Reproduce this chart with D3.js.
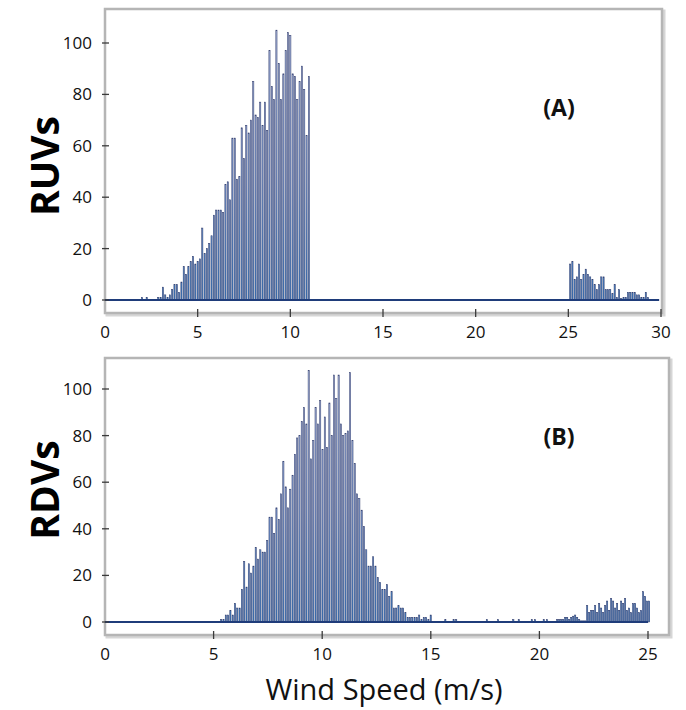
<!DOCTYPE html>
<html><head><meta charset="utf-8">
<script src="https://cdn.jsdelivr.net/npm/d3@7"></script>
<style>body{margin:0;background:#fff}svg{display:block}</style>
</head><body>
<svg id="c" width="686" height="710"></svg>
<script>
// ---------- DATA ----------
// Panel A (RUVs): counts per wind-speed bin
const ruvMainStart = 2.0, ruvMainStep = 0.125;
const ruvMainValues = [1,0,1,0,0,0,0,1,1,5,2,1,2,4,6,6,3,7,13,10,13,15,17,14,15,16,28,18,20,22,25,33,35,35,35,34,45,46,39,63,63,47,48,67,55,68,65,70,85,72,71,77,68,77,66,97,83,78,105,92,78,88,97,104,103,88,87,78,85,91,82,64,87];
const ruvTailStart = 25.1, ruvTailStep = 0.12;
const ruvTailValues = [14,15,8,9,14,8,10,12,10,9,8,6,4,6,9,9,4,4,4,2.5,6,1,4,0.5,1,1,3,3,3,3,2,2,1,1,3,1];

// Panel B (RDVs)
const rdvMainStart = 5.35, rdvMainStep = 0.106;
const rdvMainValues = [1,1,3,3,5,3,8,6,6,14,26,15,25,21,24,32,27,31,30,30,35,45,45,38,49,44,55,69,58,49,57,63,72,79,80,86,92,85,108,70,78,92,85,95,74,88,75,94,80,106,96,106,85,80,81,82,107,78,68,55,53,48,41,31,24,24,28,24,19,17,14,14,16,11,13,6,6,7,6,6,4,2,2,2,2,2,3,1,2,2,1,3];
const rdvSparseSpeeds = [15.67,16.05,16.17,17.58,18.1,18.8,19.05,19.65,19.8,20.2,20.35];
const rdvSparseValues = [1,1,1,1,1,1,1,1,1,1,1];
const rdvTailStart = 20.82, rdvTailStep = 0.092;
const rdvTailValues = [1,1,1,1,2,2,1,2,2.5,3,2,1,0.5,0.5,0.5,7,4,5,5,7,4,8,6,4,7,9,5,10,9,6,8,5,9,8,10,5,6,4,8,8,6,4,5,13,11,9,9];

const ruvXTicks = [0,5,10,15,20,25,30];
const rdvXTicks = [0,5,10,15,20,25];
const yTicks = [0,20,40,60,80,100];

// ---------- BUILD ----------
function seg(start, step, values){ return values.map((v,i)=>({s:start+i*step, v})); }
const ruvData = seg(ruvMainStart, ruvMainStep, ruvMainValues).concat(seg(ruvTailStart, ruvTailStep, ruvTailValues));
const rdvData = seg(rdvMainStart, rdvMainStep, rdvMainValues)
  .concat(rdvSparseSpeeds.map((s,i)=>({s, v:rdvSparseValues[i]})))
  .concat(seg(rdvTailStart, rdvTailStep, rdvTailValues));

const svg = d3.select('#c');
const FONT = "'Open Sans', 'DejaVu Sans', sans-serif";
const defs = svg.append('defs');

const panels = [
  {id:'a', data:ruvData, xDomain:[0,30], xTicks:ruvXTicks, xr:[105,661], yr:[300,43],
   frame:{x0:105,x1:662,y0:9,y1:313}, baseEnd:29.9, ylabel:'RUVs', ylabelY:166, tag:'(A)', tagY:116, tickLabelY:338},
  {id:'b', data:rdvData, xDomain:[0,25], xTicks:rdvXTicks, xr:[105,648], yr:[622,389],
   frame:{x0:105,x1:669,y0:358,y1:635}, baseEnd:25, ylabel:'RDVs', ylabelY:490, tag:'(B)', tagY:445, tickLabelY:660}
];

panels.forEach(p=>{
  const x = d3.scaleLinear().domain(p.xDomain).range(p.xr);
  const y = d3.scaleLinear().domain([0,100]).range(p.yr);
  const f = p.frame;
  const g = svg.append('g');

  const grad = defs.append('linearGradient').attr('id','grad'+p.id)
    .attr('gradientUnits','userSpaceOnUse').attr('x1',0).attr('x2',0)
    .attr('y1',y(105)).attr('y2',y(0));
  grad.append('stop').attr('offset','0%').attr('stop-color','#a9b6da');
  grad.append('stop').attr('offset','55%').attr('stop-color','#7f9bcf');
  grad.append('stop').attr('offset','100%').attr('stop-color','#3f7fc4');

  // frame shadow + frame
  g.append('rect').attr('x',f.x0+2).attr('y',f.y0+2).attr('width',f.x1-f.x0).attr('height',f.y1-f.y0)
    .attr('fill','none').attr('stroke','#d6d6d6').attr('stroke-width',3);
  g.append('rect').attr('x',f.x0).attr('y',f.y0).attr('width',f.x1-f.x0).attr('height',f.y1-f.y0)
    .attr('fill','#fff').attr('stroke','#b5b5b5').attr('stroke-width',2.5);

  // bars
  const w = 1.2;
  g.append('g').selectAll('rect').data(p.data.filter(d=>d.v>0)).join('rect')
    .attr('x',d=>x(d.s)-w/2).attr('y',d=>y(d.v))
    .attr('width',w).attr('height',d=>y(0)-y(d.v))
    .attr('fill','url(#grad'+p.id+')').attr('stroke','#2a3566').attr('stroke-width',0.5);

  // baseline
  g.append('line').attr('x1',x(0)).attr('x2',x(p.baseEnd)).attr('y1',y(0)).attr('y2',y(0))
    .attr('stroke','#1f3c7a').attr('stroke-width',1.8);

  // x axis ticks + labels
  const xa = g.append('g');
  xa.selectAll('line').data(p.xTicks.filter(t=>t>0)).join('line')
    .attr('x1',d=>x(d)).attr('x2',d=>x(d)).attr('y1',f.y1-4).attr('y2',f.y1+4)
    .attr('stroke','#3a3a3a').attr('stroke-width',1.3);
  xa.selectAll('text').data(p.xTicks).join('text')
    .attr('x',d=>x(d)).attr('y',p.tickLabelY).attr('text-anchor','middle')
    .attr('font-family',FONT).attr('font-size',17).attr('fill','#111').text(d=>d);

  // y axis ticks + labels
  const ya = g.append('g');
  ya.selectAll('line').data(yTicks).join('line')
    .attr('x1',f.x0-3).attr('x2',f.x0+4).attr('y1',d=>y(d)).attr('y2',d=>y(d))
    .attr('stroke','#3a3a3a').attr('stroke-width',1.3);
  ya.selectAll('text').data(yTicks).join('text')
    .attr('x',92).attr('y',d=>y(d)).attr('dy','0.35em').attr('text-anchor','end')
    .attr('font-family',FONT).attr('font-size',17).attr('fill','#111').text(d=>d);

  // y title
  g.append('text').attr('transform',`translate(59,${p.ylabelY}) rotate(-90)`)
    .attr('text-anchor','middle').attr('font-family',FONT).attr('font-weight',700)
    .attr('font-size',39).attr('fill','#000').text(p.ylabel);

  // panel tag
  g.append('text').attr('x',559).attr('y',p.tagY).attr('text-anchor','middle')
    .attr('font-family',FONT).attr('font-weight',700).attr('font-size',23).attr('fill','#111').text(p.tag);
});

svg.append('text').attr('x',384).attr('y',700).attr('text-anchor','middle')
  .attr('font-family',FONT).attr('font-size',29).attr('fill','#111').text('Wind Speed (m/s)');
</script>
</body></html>
